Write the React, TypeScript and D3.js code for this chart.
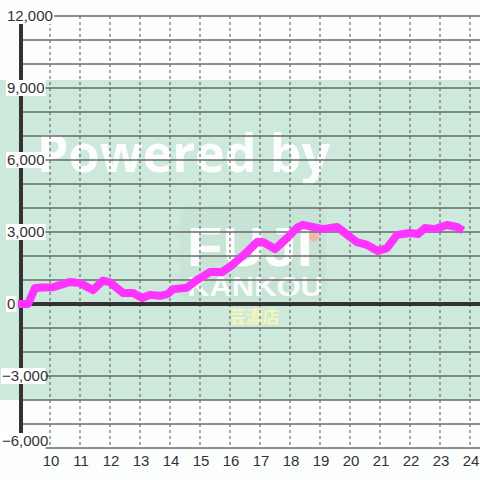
import React from "react";
import * as d3 from "d3";

const hours = [8.93, 9.27, 9.5, 9.77, 10.1, 10.43, 10.67, 11.0, 11.43, 11.77, 12.0, 12.43, 12.77, 13.07, 13.33, 13.67, 13.93, 14.1, 14.57, 14.9, 15.33, 15.73, 16.07, 16.57, 16.9, 17.1, 17.5, 17.9, 18.23, 18.43, 18.9, 19.1, 19.57, 19.77, 20.23, 20.57, 20.93, 21.23, 21.57, 22.0, 22.27, 22.5, 22.83, 23.23, 23.57, 23.77];
const values = [0, 0, 670, 690, 700, 830, 920, 870, 580, 980, 900, 460, 460, 250, 380, 340, 420, 620, 680, 1000, 1330, 1330, 1620, 2170, 2580, 2580, 2290, 2750, 3170, 3300, 3170, 3120, 3210, 3020, 2580, 2460, 2210, 2330, 2880, 2960, 2920, 3170, 3120, 3290, 3210, 3060];

const xTicks = [10, 11, 12, 13, 14, 15, 16, 17, 18, 19, 20, 21, 22, 23, 24];
const yLabelTicks = [12000, 9000, 6000, 3000, 0, -3000, -6000];
const yGridTicks = [12000, 11000, 10000, 9000, 8000, 7000, 6000, 5000, 4000, 3000, 2000, 1000, 0, -1000, -2000, -3000, -4000, -5000, -6000];
const bandRange = [9333, -4000];

export default function App() {
  const W = 480, H = 480;
  const x = d3.scaleLinear().domain([9, 24]).range([20, 470]);
  const y = d3.scaleLinear().domain([-6000, 12000]).range([448, 16]);
  const fmt = d3.format(",");
  const line = d3
    .line<number>()
    .x((_, i) => x(hours[i]))
    .y((d) => y(d));
  const font = "'Liberation Sans', Arial, sans-serif";
  return (
    <svg
      width={W}
      height={H}
      style={{ position: "absolute", left: 0, top: 0, background: "#fff" }}
    >
      <rect x={0} y={0} width={W} height={H} fill="#fcfefd" />
      <rect
        x={0}
        y={y(bandRange[0])}
        width={W}
        height={y(bandRange[1]) - y(bandRange[0])}
        fill="#cce9db"
      />
      {/* watermark */}
      <g>
        <text
          x={37}
          y={172}
          fontFamily="'Open Sans', sans-serif"
          fontWeight="bold"
          fontSize={52}
          fill="#ffffff"
          fillOpacity={0.93}
          textLength={293}
          lengthAdjust="spacingAndGlyphs"
        >
          Powered by
        </text>
        <rect x={180} y={206} width={146} height={96} rx={10} fill="#bdd9cd" fillOpacity={0.3} />
        <text
          x={187}
          y={266}
          fontFamily="'Liberation Sans', Arial, sans-serif"
          fontWeight="bold"
          fontSize={56}
          fill="#ffffff"
          fillOpacity={0.92}
          textLength={126}
          lengthAdjust="spacingAndGlyphs"
        >
          FUJI
        </text>
        <circle cx={314} cy={237} r={5} fill="#f2b8a8" />
        <text
          x={187}
          y={296}
          fontFamily="'Liberation Sans', Arial, sans-serif"
          fontWeight="bold"
          fontSize={28}
          fill="#ffffff"
          fillOpacity={0.92}
          textLength={136}
          lengthAdjust="spacingAndGlyphs"
        >
          KANKOU
        </text>
        <text
          x={254}
          y={323}
          textAnchor="middle"
          fontFamily="'Noto Sans CJK JP', sans-serif"
          fontSize={17}
          fontWeight="bold"
          fill="#f4f5b8"
        >
          芸濃店
        </text>
      </g>
      {/* vertical dashed grid */}
      {xTicks.map((t) => (
        <line
          key={"v" + t}
          x1={x(t)}
          x2={x(t)}
          y1={y(12000)}
          y2={y(-6000)}
          stroke="#555"
          strokeWidth={1}
          strokeDasharray="3,3"
        />
      ))}
      {/* horizontal grid */}
      {yGridTicks.map((t) => (
        <line
          key={"h" + t}
          x1={x(9)}
          x2={W}
          y1={y(t)}
          y2={y(t)}
          stroke="#6a6a6a"
          strokeWidth={1.5}
        />
      ))}
      {/* axes */}
      <line x1={x(9) + 1} x2={x(9) + 1} y1={y(12000)} y2={y(-6000)} stroke="#333" strokeWidth={4} />
      <line x1={x(9)} x2={W} y1={y(0)} y2={y(0)} stroke="#333" strokeWidth={4} />
      {/* y labels */}
      {yLabelTicks.map((t) => {
        const s = fmt(t);
        const neg = t < 0;
        const cy = Math.min(y(t), 441);
        const tw = s.length * 8.34 - (s.includes(",") ? 4.17 : 0) - (neg ? 3.34 : 0);
        const lx = neg ? 2 : 7;
        return (
          <g key={"yl" + t}>
            <rect x={lx - 1} y={cy - 8} width={tw + 2} height={16} fill="#fff" />
            <text
              x={lx}
              y={cy}
              dy="0.35em"
              fontFamily={font}
              fontSize={15}
              fill="#333"
            >
              {s}
            </text>
          </g>
        );
      })}
      {/* x labels */}
      {xTicks.map((t) => (
        <text
          key={"xl" + t}
          x={x(t) + 1}
          y={466}
          textAnchor="middle"
          fontFamily={font}
          fontSize={15}
          fill="#333"
        >
          {t}
        </text>
      ))}
      {/* data line */}
      <path
        d={line(values) || ""}
        fill="none"
        stroke="#ff33ff"
        strokeWidth={8}
        strokeLinejoin="round"
        strokeLinecap="butt"
      />
    </svg>
  );
}
